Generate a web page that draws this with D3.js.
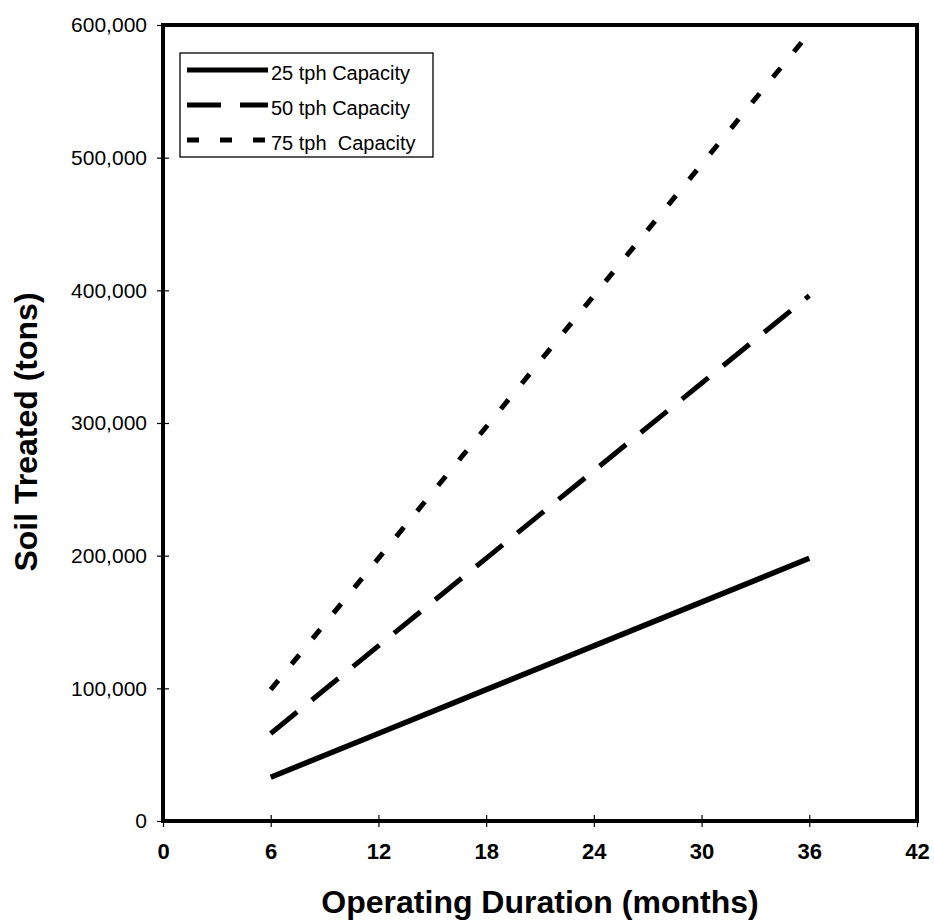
<!DOCTYPE html>
<html>
<head>
<meta charset="utf-8">
<script src="https://cdn.jsdelivr.net/npm/d3@7"></script>
<style>
  html, body { margin: 0; padding: 0; background: #fff; }
  svg { display: block; font-family: "Liberation Sans", Arial, sans-serif; }
</style>
</head>
<body>
<svg id="chart" width="934" height="924"></svg>
<script>
// Operating duration (months) at which soil throughput is plotted
const months = [6, 12, 18, 24, 30, 36];

// Cumulative soil treated (tons) for each plant capacity
const tph25 = [33000, 66000, 99000, 132000, 165000, 198000];
const tph50 = [66000, 132000, 198000, 264000, 330000, 396000];
const tph75 = [99000, 198000, 297000, 396000, 495000, 594000];

const seriesNames = ["25 tph Capacity", "50 tph Capacity", "75 tph  Capacity"];

// Axis ticks
const xTicks = [0, 6, 12, 18, 24, 30, 36, 42];
const yTicks = [0, 100000, 200000, 300000, 400000, 500000, 600000];

const series = [
  { name: seriesNames[0], values: tph25, dash: null, width: 5.5 },
  { name: seriesNames[1], values: tph50, dash: "34,19", width: 5 },
  { name: seriesNames[2], values: tph75, dash: "12,21", width: 5 }
];

const svg = d3.select("#chart");
const plotLeft = 163, plotRight = 917, plotTop = 25, plotBottom = 821;

const x = d3.scaleLinear().domain([0, 42]).range([plotLeft, plotRight]);
const y = d3.scaleLinear().domain([0, 600000]).range([plotBottom, plotTop]);

// Y axis: ticks cross the axis line
const yAxis = svg.append("g")
  .attr("transform", `translate(${plotLeft},0)`)
  .call(d3.axisLeft(y).tickValues(yTicks).tickFormat(d3.format(",")).tickSize(6).tickPadding(10));
yAxis.select(".domain").remove();
yAxis.selectAll(".tick line").attr("x1", 6).attr("x2", -6).attr("stroke", "#000").attr("stroke-width", 1.2);
yAxis.selectAll(".tick text")
  .attr("font-size", 21).attr("fill", "#000")
  .attr("font-family", "'Liberation Sans', Arial, sans-serif");

// X axis
const xAxis = svg.append("g")
  .attr("transform", `translate(0,${plotBottom})`)
  .call(d3.axisBottom(x).tickValues(xTicks).tickFormat(d3.format("d")).tickSize(6).tickPadding(16));
xAxis.select(".domain").remove();
xAxis.selectAll(".tick line").attr("y1", -6).attr("y2", 6).attr("stroke", "#000").attr("stroke-width", 1.2);
xAxis.selectAll(".tick text")
  .attr("font-size", 22).attr("font-weight", "bold").attr("fill", "#000")
  .attr("font-family", "'Liberation Sans', Arial, sans-serif");

// Plot frame
svg.append("rect")
  .attr("x", x(0)).attr("y", y(600000))
  .attr("width", x(42) - x(0)).attr("height", y(0) - y(600000))
  .attr("fill", "none").attr("stroke", "#000").attr("stroke-width", 4);

// Series lines
const line = d3.line()
  .x((d, i) => x(months[i]))
  .y(d => y(d));

svg.append("g").selectAll("path")
  .data(series)
  .join("path")
  .attr("d", d => line(d.values))
  .attr("fill", "none")
  .attr("stroke", "#000")
  .attr("stroke-width", d => d.width)
  .attr("stroke-linecap", "butt")
  .attr("stroke-dasharray", d => d.dash);

// Legend
const legend = svg.append("g");
legend.append("rect")
  .attr("x", 180).attr("y", 53).attr("width", 253).attr("height", 104)
  .attr("fill", "#fff").attr("stroke", "#000").attr("stroke-width", 1.3);

const rows = legend.selectAll("g.row")
  .data(series)
  .join("g")
  .attr("class", "row")
  .attr("transform", (d, i) => `translate(0,${70 + i * 35})`);

rows.append("line")
  .attr("x1", 187).attr("x2", 268).attr("y1", 0).attr("y2", 0)
  .attr("stroke", "#000").attr("stroke-width", 5)
  .attr("stroke-dasharray", d => d.dash);

rows.append("text")
  .attr("x", 271).attr("y", 10)
  .attr("font-size", 20)
  .attr("fill", "#000")
  .style("white-space", "pre")
  .text(d => d.name);

// Axis titles
svg.append("text")
  .attr("x", (plotLeft + plotRight) / 2).attr("y", 913)
  .attr("text-anchor", "middle")
  .attr("font-size", 32).attr("font-weight", "bold").attr("fill", "#000")
  .text("Operating Duration (months)");

svg.append("text")
  .attr("transform", "translate(37,432) rotate(-90)")
  .attr("text-anchor", "middle")
  .attr("font-size", 32).attr("font-weight", "bold").attr("fill", "#000")
  .text("Soil Treated (tons)");
</script>
</body>
</html>
